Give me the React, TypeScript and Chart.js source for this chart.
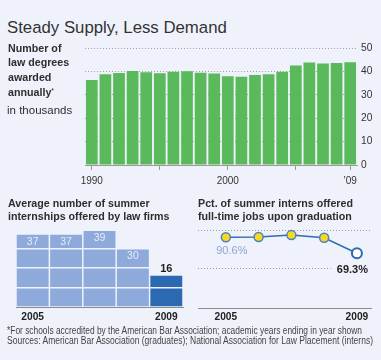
import React, { useEffect, useRef } from "react";
import { Chart, registerables } from "chart.js";

Chart.register(...registerables);

// ---------- data ----------
const degreeYears = [
  "1990", "1991", "1992", "1993", "1994", "1995", "1996", "1997", "1998", "1999",
  "2000", "2001", "2002", "2003", "2004", "2005", "2006", "2007", "2008", "2009",
];
const degreeValues = [
  36.4, 38.8, 39.4, 40.2, 39.7, 39.2, 39.9, 40.1, 39.5, 39.1,
  38.0, 37.7, 38.5, 38.8, 39.9, 42.6, 43.9, 43.4, 43.6, 44.0,
];
const degreeTickLabels: Record<string, string> = { "1990": "1990", "2000": "2000", "2009": "\u201909" };
const degreeTickMarks = ["1990", "1995", "2000", "2005", "2009"];
const degreeAxisTicks = [0, 10, 20, 30, 40, 50];

const internYears = ["2005", "2006", "2007", "2008", "2009"];
const internValues = [37, 37, 39, 30, 16];
const internTickLabels = ["2005", "2009"];

const offerYears = [2005, 2006, 2007, 2008, 2009];
const offerValues = [90.6, 91.0, 93.5, 90.0, 69.3];
const offerTickYears = [2005, 2009];
const offerGridValues = [100, 50];

// ---------- style ----------
const BG = "#eff2fa";
const GREEN = "#5ab95a";
const LIGHT_BLUE = "#8eaadb";
const DARK_BLUE = "#2b69b3";
const LINE_BLUE = "#2f6cb5";
const SANS = '"Liberation Sans", Arial, sans-serif';
const TEXT = "#2e2e2e";

function useChart(ref: React.RefObject<HTMLCanvasElement | null>, make: () => any) {
  useEffect(() => {
    if (!ref.current) return;
    const chart = new Chart(ref.current, make());
    return () => chart.destroy();
  }, []);
}

function DegreesChart() {
  const ref = useRef<HTMLCanvasElement>(null);
  useChart(ref, () => ({
    type: "bar",
    data: {
      labels: degreeYears,
      datasets: [
        {
          data: degreeValues,
          backgroundColor: GREEN,
          barPercentage: 0.86,
          categoryPercentage: 1,
        },
      ],
    },
    options: {
      responsive: false,
      animation: false,
      layout: { padding: { left: 35, top: 10, right: 0, bottom: 0 } },
      plugins: { legend: { display: false }, tooltip: { enabled: false } },
      scales: {
        x: {
          grid: {
            display: true,
            offset: false,
            drawOnChartArea: false,
            drawTicks: true,
            tickLength: 5,
            lineWidth: 1,
            color: (c: any) =>
              degreeTickMarks.includes(degreeYears[c.index]) ? "#9a9a9a" : "rgba(0,0,0,0)",
          },
          border: { display: true, color: "#9a9a9a", width: 1 },
          ticks: {
            autoSkip: false,
            maxRotation: 0,
            padding: 5,
            color: "#333",
            font: { family: SANS, size: 10 },
            callback: (_v: any, i: number) => degreeTickLabels[degreeYears[i]] ?? "",
          },
          afterFit: (s: any) => {
            s.height = 25;
            s.paddingLeft = 0;
            s.paddingRight = 0;
          },
        },
        y: {
          position: "right",
          min: degreeAxisTicks[0],
          max: degreeAxisTicks[degreeAxisTicks.length - 1],
          ticks: {
            stepSize: 10,
            padding: 4,
            color: "#333",
            font: { family: SANS, size: 10.2 },
          },
          grid: { drawTicks: false, color: "#a5a5a5", lineWidth: 1 },
          border: { display: false, dash: [1, 2] },
          afterFit: (s: any) => {
            s.width = 24;
          },
        },
      },
    },
  }));
  return (
    <canvas
      ref={ref}
      width={331}
      height={152}
      style={{ position: "absolute", left: 50, top: 38, width: 331, height: 152 }}
    />
  );
}

const blockLabelPlugin = {
  id: "blockLabels",
  afterDraw(chart: any) {
    const ctx = chart.ctx;
    const meta = chart.getDatasetMeta(0);
    ctx.save();
    ctx.textAlign = "center";
    ctx.textBaseline = "middle";
    meta.data.forEach((bar: any, i: number) => {
      const last = i === meta.data.length - 1;
      if (last) {
        ctx.fillStyle = "#1e1e1e";
        ctx.font = `bold 11px ${SANS}`;
        ctx.fillText(String(internValues[i]), bar.x, bar.y - 7);
      } else {
        ctx.fillStyle = "#e6ecf8";
        ctx.font = `10.5px ${SANS}`;
        ctx.fillText(String(internValues[i]), bar.x, bar.y + 7.5);
      }
    });
    ctx.restore();
  },
};

function InternshipChart() {
  const ref = useRef<HTMLCanvasElement>(null);
  useChart(ref, () => ({
    type: "bar",
    data: {
      labels: internYears,
      datasets: [
        {
          data: internValues,
          backgroundColor: internYears.map((_y, i) =>
            i === internYears.length - 1 ? DARK_BLUE : LIGHT_BLUE
          ),
          barPercentage: 0.955,
          categoryPercentage: 1,
        },
      ],
    },
    options: {
      responsive: false,
      animation: false,
      layout: { padding: { left: 16, right: 7, top: 9, bottom: 0 } },
      plugins: { legend: { display: false }, tooltip: { enabled: false } },
      scales: {
        x: {
          grid: { display: false, drawTicks: false },
          border: { display: true, color: "#8c8c8c", width: 1 },
          ticks: {
            autoSkip: false,
            maxRotation: 0,
            padding: 4,
            color: "#222",
            font: { family: SANS, size: 10.2, weight: "bold" },
            callback: (_v: any, i: number) =>
              internTickLabels.includes(internYears[i]) ? internYears[i] : "",
          },
          afterFit: (s: any) => {
            s.height = 20;
            s.paddingLeft = 0;
            s.paddingRight = 0;
          },
        },
        y: {
          min: 0,
          max: 40,
          ticks: { display: false, stepSize: 10 },
          grid: {
            z: 1,
            drawTicks: false,
            lineWidth: 1.6,
            color: (c: any) =>
              c.tick && c.tick.value > 0 && c.tick.value < 40 ? BG : "rgba(0,0,0,0)",
          },
          border: { display: false },
          afterFit: (s: any) => {
            s.width = 0;
          },
        },
      },
    },
    plugins: [blockLabelPlugin],
  }));
  return (
    <canvas
      ref={ref}
      width={190}
      height={107}
      style={{ position: "absolute", left: 0, top: 220, width: 190, height: 107 }}
    />
  );
}

const offerGridPlugin = {
  id: "offerGrid",
  beforeDatasetsDraw(chart: any) {
    const { ctx, chartArea, scales } = chart;
    ctx.save();
    ctx.strokeStyle = "#9c9c9c";
    ctx.lineWidth = 1;
    ctx.setLineDash([1, 2]);
    offerGridValues.forEach((v, i) => {
      const y = Math.round(scales.y.getPixelForValue(v)) + 0.5;
      const x1 = i === 0 ? chartArea.right : scales.x.getPixelForValue(2008.2);
      ctx.beginPath();
      ctx.moveTo(chartArea.left, y);
      ctx.lineTo(x1, y);
      ctx.stroke();
    });
    ctx.restore();
  },
  afterDatasetsDraw(chart: any) {
    const ctx = chart.ctx;
    const pts = chart.getDatasetMeta(0).data;
    const first = pts[0];
    const last = pts[pts.length - 1];
    ctx.save();
    ctx.textAlign = "center";
    ctx.textBaseline = "middle";
    ctx.font = `11px ${SANS}`;
    ctx.fillStyle = "#8aa6d9";
    ctx.fillText(offerValues[0].toFixed(1) + "%", first.x + 6, first.y + 14);
    ctx.font = `bold 11px ${SANS}`;
    ctx.fillStyle = "#1e1e1e";
    ctx.fillText(offerValues[offerValues.length - 1].toFixed(1) + "%", last.x - 4.5, last.y + 17);
    ctx.restore();
  },
};

function OfferChart() {
  const ref = useRef<HTMLCanvasElement>(null);
  const n = offerValues.length;
  useChart(ref, () => ({
    type: "line",
    data: {
      datasets: [
        {
          data: offerYears.map((x, i) => ({ x, y: offerValues[i] })),
          borderColor: LINE_BLUE,
          borderWidth: 1.5,
          tension: 0,
          pointRadius: offerValues.map((_v, i) => (i === n - 1 ? 5 : 4.5)),
          pointBackgroundColor: offerValues.map((_v, i) => (i === n - 1 ? "#ffffff" : "#f6da1f")),
          pointBorderColor: offerValues.map((_v, i) => (i === n - 1 ? "#2c69b2" : "#4d7fc3")),
          pointBorderWidth: offerValues.map((_v, i) => (i === n - 1 ? 2 : 1.5)),
        },
      ],
    },
    options: {
      responsive: false,
      animation: false,
      layout: { padding: { left: 8, right: 10, top: 9, bottom: 0 } },
      plugins: { legend: { display: false }, tooltip: { enabled: false } },
      scales: {
        x: {
          type: "linear",
          min: 2004.15,
          max: 2009.43,
          afterBuildTicks: (s: any) => {
            s.ticks = offerTickYears.map((v) => ({ value: v }));
          },
          grid: { display: false, drawTicks: false },
          border: { display: true, color: "#8c8c8c", width: 1 },
          ticks: {
            autoSkip: false,
            maxRotation: 0,
            padding: 3,
            color: "#222",
            font: { family: SANS, size: 10.2, weight: "bold" },
            callback: (v: any) => String(v),
          },
          afterFit: (s: any) => {
            s.height = 20;
            s.paddingLeft = 0;
            s.paddingRight = 0;
          },
        },
        y: { display: false, min: -3.5, max: 101.6 },
      },
    },
    plugins: [offerGridPlugin],
  }));
  return (
    <canvas
      ref={ref}
      width={191}
      height={108}
      style={{ position: "absolute", left: 190, top: 220, width: 191, height: 108 }}
    />
  );
}

function FitLine({ text, width, top }: { text: string; width: number; top: number }) {
  const ref = useRef<HTMLDivElement>(null);
  useEffect(() => {
    const el = ref.current;
    if (!el) return;
    el.style.transform = "none";
    const w = el.getBoundingClientRect().width;
    if (w > 0) el.style.transform = `scaleX(${width / w})`;
  }, []);
  return (
    <div
      ref={ref}
      style={{
        position: "absolute",
        left: 7,
        top,
        whiteSpace: "nowrap",
        font: `10px ${SANS}`,
        lineHeight: "10.7px",
        color: "#444",
        transformOrigin: "0 0",
        display: "inline-block",
      }}
    >
      {text}
    </div>
  );
}

export default function App() {
  useEffect(() => {
    document.body.style.margin = "0";
    document.body.style.background = BG;
  }, []);
  const abs = (extra: React.CSSProperties): React.CSSProperties => ({
    position: "absolute",
    whiteSpace: "nowrap",
    color: TEXT,
    ...extra,
  });
  return (
    <div
      style={{
        position: "absolute",
        left: 0,
        top: 0,
        width: 381,
        height: 360,
        background: BG,
        overflow: "hidden",
      }}
    >
      <DegreesChart />
      <InternshipChart />
      <OfferChart />
      <div style={abs({ left: 7, top: 18, font: `16.8px ${SANS}`, lineHeight: "20px", color: "#333" })}>
        Steady Supply, Less Demand
      </div>
      <div style={abs({ left: 8, top: 40.6, font: `bold 10.7px ${SANS}`, lineHeight: "14.7px" })}>
        Number of
        <br />
        law degrees
        <br />
        awarded
        <br />
        annually
        <span style={{ fontSize: 7, fontWeight: "normal", position: "relative", top: -3 }}>*</span>
      </div>
      <div style={abs({ left: 7, top: 103, font: `11.5px ${SANS}`, lineHeight: "14.7px" })}>
        in thousands
      </div>
      <div style={abs({ left: 8, top: 196.9, font: `bold 10.7px ${SANS}`, lineHeight: "13.4px" })}>
        Average number of summer
        <br />
        internships offered by law firms
      </div>
      <div style={abs({ left: 198, top: 196.9, font: `bold 10.7px ${SANS}`, lineHeight: "13.4px" })}>
        Pct. of summer interns offered
        <br />
        full-time jobs upon graduation
      </div>
      <FitLine
        top={325.5}
        width={355}
        text="*For schools accredited by the American Bar Association; academic years ending in year shown"
      />
      <FitLine
        top={336.2}
        width={366}
        text="Sources: American Bar Association (graduates); National Association for Law Placement (interns)"
      />
    </div>
  );
}
